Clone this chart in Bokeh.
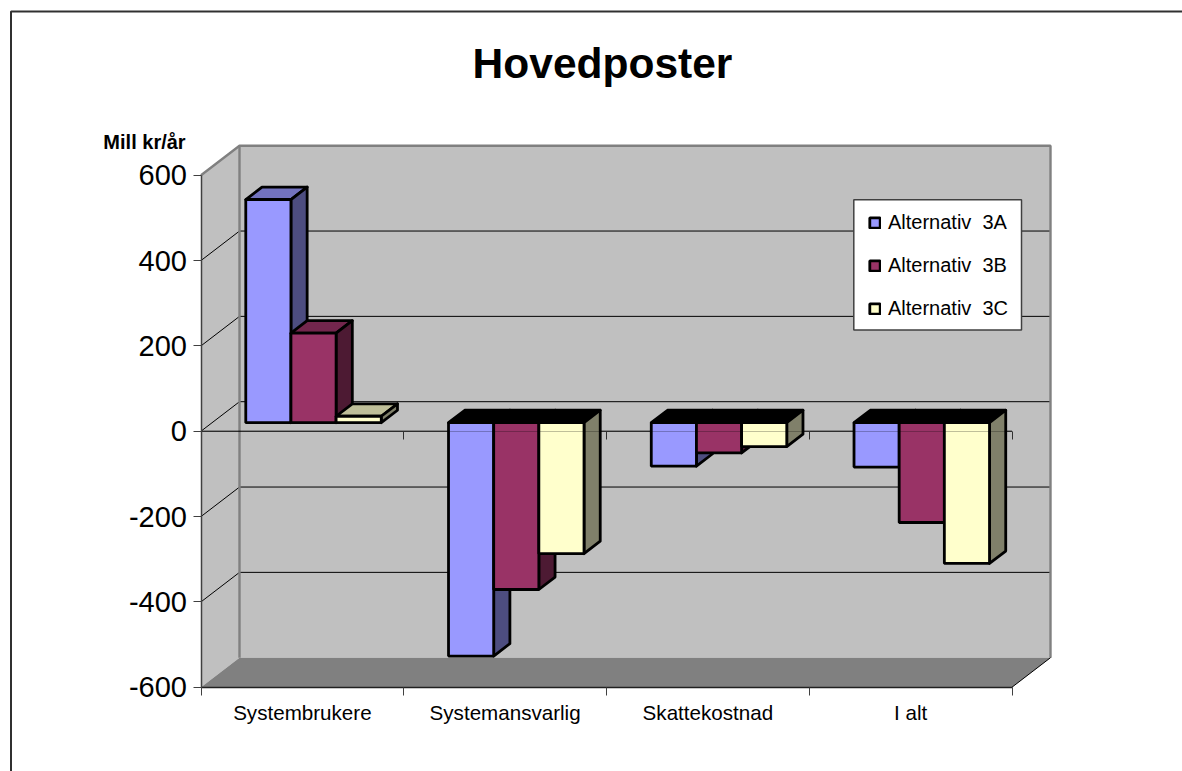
from bokeh.plotting import figure
from bokeh.models import Label, Legend, LegendItem, LinearAxis, FixedTicker
from bokeh.embed import file_html
from bokeh.resources import INLINE

categories = ["Systembrukere", "Systemansvarlig", "Skattekostnad", "I alt"]
series_names = ["Alternativ  3A", "Alternativ  3B", "Alternativ  3C"]
alt_3a = [523, -547, -102, -104]
alt_3b = [210, -391, -71, -234]
alt_3c = [15, -307, -56, -330]
y_ticks = [-600, -400, -200, 0, 200, 400, 600]
front_colors = ["#9999FF", "#993366", "#FFFFCC"]
top_colors = ["#7373BF", "#73264D", "#BFBF99"]
side_colors = ["#4D4D80", "#4D1A33", "#80806A"]

W, H = 1182, 771
X0_PX, X4_PX = 200.5, 1011.5      # category axis ends on the page
YT_PX, YB_PX = 174.7, 686.7       # value axis ends on the page
DEPTH_DX_PX, DEPTH_DY_PX = 38.5, 29.5
PX_X = (X4_PX - X0_PX) / 4
PX_Y = (YB_PX - YT_PX) / 1200

x_range = ((0 - X0_PX) / PX_X, (W - X0_PX) / PX_X)
y_range = (600 - (H - YT_PX) / PX_Y, 600 - (0 - YT_PX) / PX_Y)
DX = DEPTH_DX_PX / PX_X
DY = DEPTH_DY_PX / PX_Y


def xpx(px):
    return (px - X0_PX) / PX_X


def ypx(py):
    return 600 - (py - YT_PX) / PX_Y


p = figure(width=W, height=H, x_range=x_range, y_range=y_range, min_border=0,
           output_backend="svg", toolbar_location=None, outline_line_color=None,
           background_fill_color="white", border_fill_color="white")
p.grid.visible = False
p.xaxis.visible = False
p.yaxis.visible = False

# outer frame of the chart area (open to the right and at the bottom)
p.line([xpx(10.5), xpx(10.5), x_range[1]], [y_range[0], ypx(11), ypx(11)], line_color="#303030", line_width=2)

# walls and floor
p.patch([0, DX, DX, 0], [600, 600 + DY, -600 + DY, -600], fill_color="#C0C0C0", line_color=None)
p.patch([DX, 4 + DX, 4 + DX, DX], [600 + DY, 600 + DY, -600 + DY, -600 + DY], fill_color="#C0C0C0", line_color=None)
p.patch([0, 4, 4 + DX, DX], [-600, -600, -600 + DY, -600 + DY], fill_color="#808080", line_color=None)

# gridlines on the back wall and side wall
grid_vals = [v for v in y_ticks if abs(v) != 600]
p.segment([DX] * len(grid_vals), [v + DY for v in grid_vals], [4 + DX] * len(grid_vals), [v + DY for v in grid_vals],
          line_color="black", line_width=1)
p.segment([0] * len(grid_vals), grid_vals, [DX] * len(grid_vals), [v + DY for v in grid_vals],
          line_color="black", line_width=1)

# wall edges
p.line([0, DX, 4 + DX, 4 + DX], [600, 600 + DY, 600 + DY, -600 + DY], line_color="#808080", line_width=2.4)
p.line([DX, DX], [600 + DY, -600 + DY], line_color="#808080", line_width=2.4)
p.line([4, 4 + DX], [-600, -600 + DY], line_color="black", line_width=1)

# zero line at the front, behind the bars
p.segment([0], [0], [4], [0], line_color="black", line_width=1)

# legend box
p.quad(left=[xpx(853.3)], right=[xpx(1021)], top=[ypx(199.3)], bottom=[ypx(329.5)],
       fill_color="white", line_color="#404040", line_width=1.5)

# bars
BAR_W = 135.5 / PX_X / 3
GAP = (1 - 3 * BAR_W) / 2
D0, D1 = 11.0 / 38.0, 27.0 / 38.0
series = [alt_3a, alt_3b, alt_3c]
front_r = [None, None, None]
LW = 2.8
for c in range(len(categories)):
    for s, vals in enumerate(series):
        v = vals[c]
        l = c + GAP + s * BAR_W + D0 * DX
        r = l + BAR_W
        base = D0 * DY
        end = v + base
        d = (D1 - D0)
        ddx, ddy = d * DX, d * DY
        top = max(base, end)
        bot = min(base, end)
        # upper face: dark shade for a rising bar, black for a falling one
        p.patch([l, r, r + ddx, l + ddx], [top, top, top + ddy, top + ddy],
                fill_color=top_colors[s] if v > 0 else "black", line_color="black", line_width=LW, line_join="round")
        # side face
        p.patch([r, r + ddx, r + ddx, r], [top, top + ddy, bot + ddy, bot],
                fill_color=side_colors[s], line_color="black", line_width=LW, line_join="round")
        # front face
        q = p.quad(left=[l], right=[r], top=[top], bottom=[bot],
                   fill_color=front_colors[s], line_color="black", line_width=LW)
        if front_r[s] is None:
            front_r[s] = q

# faint zero line that shows through the bars, with its ticks
zero_axis = LinearAxis(fixed_location=0, ticker=FixedTicker(ticks=[0, 1, 2, 3, 4]), bounds=(0, 4),
                       axis_line_color="black", axis_line_alpha=0.25, major_tick_line_color="#303030",
                       major_tick_in=0, major_tick_out=8, minor_tick_line_color=None,
                       major_label_text_font_size="0px", major_label_text_color=None)
p.add_layout(zero_axis, "below")

# bottom axis with ticks
bottom_axis = LinearAxis(fixed_location=-600, ticker=FixedTicker(ticks=[0, 1, 2, 3, 4]), bounds=(0, 4),
                         axis_line_color="#202020", axis_line_width=1.5, major_tick_line_color="#404040",
                         major_tick_in=0, major_tick_out=8, minor_tick_line_color=None,
                         major_label_text_font_size="0px", major_label_text_color=None)
p.add_layout(bottom_axis, "below")

# category labels
label_axis = LinearAxis(fixed_location=-600, ticker=FixedTicker(ticks=[0.5, 1.5, 2.5, 3.5]),
                        major_label_overrides={i + 0.5: n for i, n in enumerate(categories)},
                        axis_line_color=None, major_tick_line_color=None, minor_tick_line_color=None,
                        major_tick_in=0, major_tick_out=0, major_label_standoff=14,
                        major_label_text_font="Liberation Sans", major_label_text_font_size="20.6px",
                        major_label_text_color="black")
p.add_layout(label_axis, "below")

# value axis
value_axis = LinearAxis(fixed_location=0, ticker=FixedTicker(ticks=y_ticks), bounds=(-600, 600),
                        major_label_overrides={v: str(v) for v in y_ticks},
                        axis_line_color="#404040", axis_line_width=1.5, major_tick_line_color="#404040",
                        major_tick_in=0, major_tick_out=8, minor_tick_line_color=None, major_label_standoff=6,
                        major_label_text_font="Liberation Sans", major_label_text_font_size="29px",
                        major_label_text_color="black")
p.add_layout(value_axis, "left")

# titles
p.add_layout(Label(x=602, y=H - 63, x_units="screen", y_units="screen", text="Hovedposter",
                   text_font="Liberation Sans", text_font_style="bold", text_font_size="42.5px",
                   text_align="center", text_baseline="middle", text_color="black"))
p.add_layout(Label(x=144, y=H - 141, x_units="screen", y_units="screen", text="Mill kr/år",
                   text_font="Liberation Sans", text_font_style="bold", text_font_size="20px",
                   text_align="center", text_baseline="middle", text_color="black"))

# legend
legend = Legend(items=[LegendItem(label=n, renderers=[front_r[i]]) for i, n in enumerate(series_names)],
                location=(868, H - 320), orientation="vertical",
                background_fill_alpha=0, border_line_color=None,
                padding=0, spacing=20, margin=0, glyph_width=13, glyph_height=13, label_height=13,
                label_standoff=7, label_text_font="Liberation Sans", label_text_font_size="20px",
                label_text_color="black", label_text_baseline="middle")
p.add_layout(legend)

open("out.html", "w").write(file_html(p, INLINE))
